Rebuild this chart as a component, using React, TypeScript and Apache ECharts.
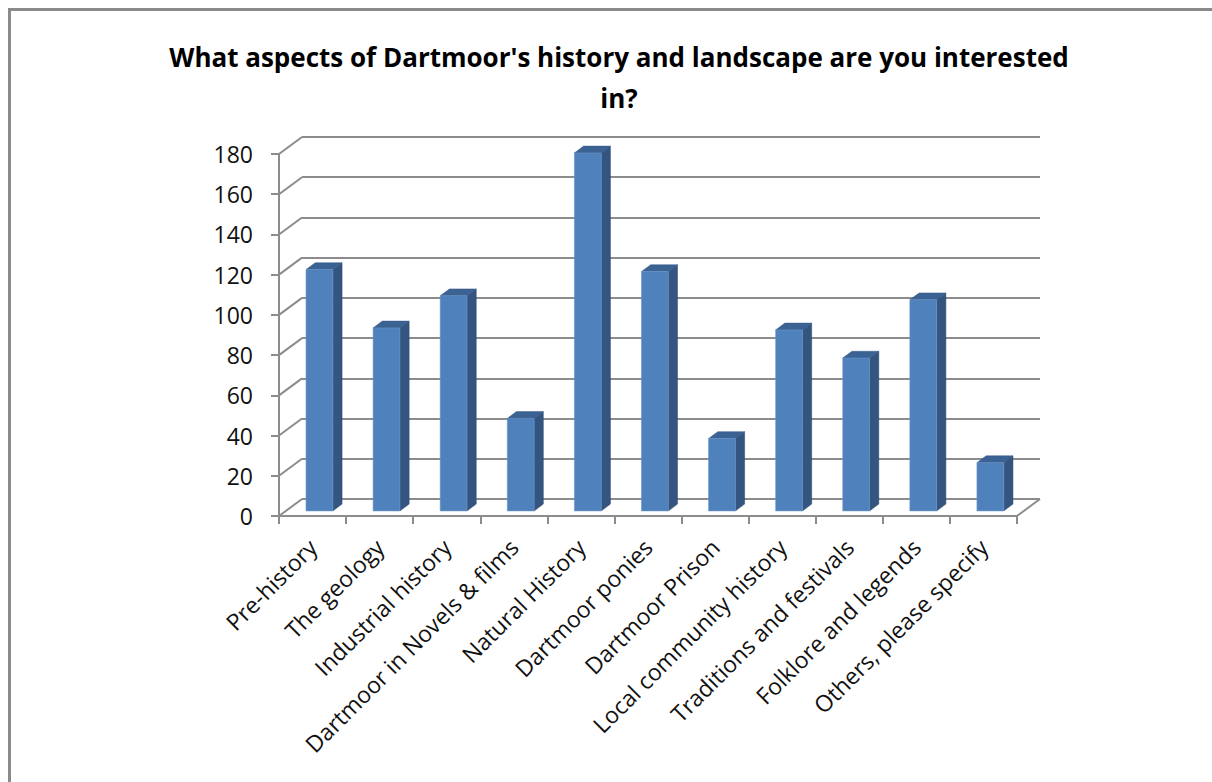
import React, { useEffect, useRef } from "react";
import * as echarts from "echarts";

const TITLE = "What aspects of Dartmoor's history and landscape are you interested\nin?";
const CATEGORIES = [
  "Pre-history",
  "The geology",
  "Industrial history",
  "Dartmoor in Novels & films",
  "Natural History",
  "Dartmoor ponies",
  "Dartmoor Prison",
  "Local community history",
  "Traditions and festivals",
  "Folklore and legends",
  "Others, please specify",
];
const VALUES = [120, 91, 107, 46, 178, 119, 36, 90, 76, 105, 24];
const Y_MIN = 0;
const Y_MAX = 180;
const Y_STEP = 20;
const Y_TICKS = [0, 20, 40, 60, 80, 100, 120, 140, 160, 180];

// 3D look (pixels)
const DX = 23;
const DY = -17;
const FRONT_F = 0.3;
const BAR_DEPTH = 0.4;
const BAR_RATIO = 0.4;

const FONT = "'Open Sans', 'Noto Sans', sans-serif";
const GRID_COLOR = "#8C8C8C";

export default function App() {
  const ref = useRef<HTMLDivElement>(null);
  useEffect(() => {
    if (!ref.current) return;
    const chart = echarts.init(ref.current, null, { renderer: "svg" });
    const frontGrid = { left: 279, top: 154, width: 738, height: 362 };
    const backGrid = {
      left: frontGrid.left + DX,
      top: frontGrid.top + DY,
      width: frontGrid.width,
      height: frontGrid.height,
    };
    const option: any = {
      animation: false,
      backgroundColor: "#ffffff",
      title: {
        text: TITLE,
        left: 619,
        top: 36,
        textAlign: "center",
        padding: 0,
        textStyle: {
          fontFamily: FONT,
          fontWeight: "bold",
          fontSize: 26,
          lineHeight: 41,
          color: "#000000",
        },
      },
      graphic: [
        {
          type: "polyline",
          shape: { points: [[9.5, 790], [9.5, 9.5], [1220, 9.5]] },
          style: { stroke: "#8A8A8A", lineWidth: 3, fill: null },
          z: 10,
        },
      ],
      grid: [
        { ...frontGrid, containLabel: false },
        { ...backGrid, containLabel: false },
      ],
      xAxis: [
        {
          type: "category",
          gridIndex: 0,
          data: CATEGORIES,
          boundaryGap: true,
          axisLine: { show: true, lineStyle: { color: GRID_COLOR, width: 2 } },
          axisTick: { show: true, interval: 0, length: 8, lineStyle: { color: GRID_COLOR, width: 2 } },
          axisLabel: {
            interval: 0,
            rotate: 45,
            margin: 27,
            fontFamily: FONT,
            fontSize: 23,
            color: "#111111",
          },
          splitLine: { show: false },
        },
        {
          type: "category",
          gridIndex: 1,
          data: CATEGORIES,
          show: false,
        },
      ],
      yAxis: [
        {
          type: "value",
          gridIndex: 0,
          min: Y_MIN,
          max: Y_MAX,
          interval: Y_STEP,
          axisLine: { show: true, lineStyle: { color: GRID_COLOR, width: 2 } },
          axisTick: { show: true, length: 8, lineStyle: { color: GRID_COLOR, width: 2 } },
          axisLabel: {
            margin: 26,
            fontFamily: FONT,
            fontSize: 23,
            color: "#111111",
          },
          splitLine: { show: false },
        },
        {
          type: "value",
          gridIndex: 1,
          min: Y_MIN,
          max: Y_MAX,
          interval: Y_STEP,
          axisLine: { show: false },
          axisTick: { show: false },
          axisLabel: { show: false },
          splitLine: { show: true, lineStyle: { color: GRID_COLOR, width: 2 } },
        },
      ],
      series: [
        {
          type: "custom",
          name: "walls",
          xAxisIndex: 0,
          yAxisIndex: 0,
          data: Y_TICKS.map((v) => [0, v]),
          encode: { x: 0, y: 1 },
          z: 1,
          silent: true,
          renderItem: (params: any, api: any) => {
            const cs = params.coordSys;
            const v = api.value(1);
            const y = api.coord([0, v])[1];
            const children: any[] = [
              {
                type: "line",
                shape: { x1: cs.x, y1: y, x2: cs.x + DX, y2: y + DY },
                style: { stroke: GRID_COLOR, lineWidth: 2 },
              },
            ];
            if (v === Y_MIN) {
              const xr = cs.x + cs.width;
              children.push({
                type: "line",
                shape: { x1: xr, y1: y, x2: xr + DX, y2: y + DY },
                style: { stroke: GRID_COLOR, lineWidth: 2 },
              });
            }
            return { type: "group", children };
          },
        },
        {
          type: "custom",
          name: "Responses",
          xAxisIndex: 0,
          yAxisIndex: 0,
          data: VALUES.map((v, i) => [i, v]),
          encode: { x: 0, y: 1 },
          z: 3,
          renderItem: (params: any, api: any) => {
            const i = api.value(0);
            const v = api.value(1);
            const base = api.coord([i, 0]);
            const top = api.coord([i, v]);
            const bw = api.size([1, 0])[0] * BAR_RATIO;
            const ox = FRONT_F * DX;
            const oy = FRONT_F * DY;
            const bx = BAR_DEPTH * DX;
            const by = BAR_DEPTH * DY;
            const x0 = base[0] - bw / 2 + ox;
            const x1 = x0 + bw;
            const yb = base[1] + oy;
            const yt = top[1] + oy;
            return {
              type: "group",
              children: [
                {
                  type: "polygon",
                  shape: { points: [[x1, yb], [x1, yt], [x1 + bx, yt + by], [x1 + bx, yb + by]] },
                  style: { fill: "#34557F", stroke: "#2E4B72", lineWidth: 0.5 },
                },
                {
                  type: "polygon",
                  shape: { points: [[x0, yt], [x1, yt], [x1 + bx, yt + by], [x0 + bx, yt + by]] },
                  style: { fill: "#3A6292", stroke: "#36598A", lineWidth: 0.5 },
                },
                {
                  type: "rect",
                  shape: { x: x0, y: yt, width: bw, height: yb - yt },
                  style: { fill: "#4F81BD", stroke: "#6B95C8", lineWidth: 0.6 },
                },
              ],
            };
          },
        },
      ],
    };
    chart.setOption(option);
    return () => chart.dispose();
  }, []);
  return (
    <div
      ref={ref}
      style={{ position: "fixed", left: 0, top: 0, width: 1212, height: 782 }}
    />
  );
}
